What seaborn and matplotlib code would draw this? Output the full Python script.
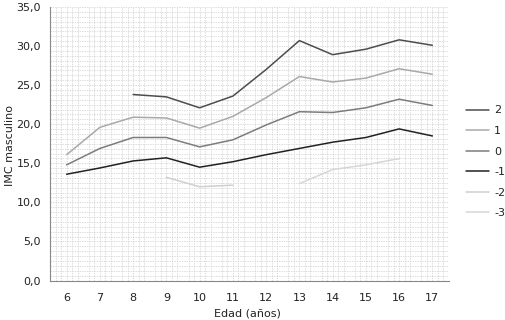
import numpy as np
import pandas as pd
import matplotlib
matplotlib.use('Agg')
import matplotlib.pyplot as plt
from matplotlib.ticker import MultipleLocator, FixedLocator, NullFormatter
import seaborn as sns

edades = [6, 7, 8, 9, 10, 11, 12, 13, 14, 15, 16, 17]

z_2 = [np.nan, np.nan, 23.8, 23.5, 22.1, 23.6, 27.0, 30.7, 28.9, 29.6, 30.8, 30.1]
z_1 = [16.1, 19.6, 20.9, 20.8, 19.5, 21.0, 23.4, 26.1, 25.4, 25.9, 27.1, 26.4]
z_0 = [14.8, 16.9, 18.3, 18.3, 17.1, 18.0, 19.9, 21.6, 21.5, 22.1, 23.2, 22.4]
z_m1 = [13.6, 14.4, 15.3, 15.7, 14.5, 15.2, 16.1, 16.9, 17.7, 18.3, 19.4, 18.5]
z_m2 = [np.nan, np.nan, np.nan, 13.2, 12.0, 12.2, np.nan, np.nan, np.nan, np.nan, np.nan, np.nan]
z_m3 = [np.nan, np.nan, np.nan, np.nan, np.nan, np.nan, np.nan, 12.4, 14.2, 14.8, 15.6, np.nan]

series = {'2': z_2, '1': z_1, '0': z_0, '-1': z_m1, '-2': z_m2, '-3': z_m3}
colores = {'2': '#4d4d4d', '1': '#a9a9a9', '0': '#7c7c7c',
           '-1': '#222222', '-2': '#cfcfcf', '-3': '#d6d6d6'}

df = pd.concat([pd.DataFrame({'Edad': edades, 'IMC': v, 'z': k}) for k, v in series.items()])
df = df.dropna()

sns.set_style('white')
plt.rcParams['font.family'] = ['Liberation Sans Narrow', 'DejaVu Sans']

fig = plt.figure(figsize=(5.06, 3.2), dpi=100)
ax = fig.add_axes([50 / 506, 1 - 280.5 / 320, 399 / 506, (280.5 - 7) / 320])

sns.lineplot(data=df, x='Edad', y='IMC', hue='z', hue_order=list(series.keys()),
             palette=colores, linewidth=1.1, ax=ax)

ax.set_xlim(5.5, 17.5)
ax.set_ylim(0, 35)

# rejilla densa punteada
ax.xaxis.set_minor_locator(MultipleLocator(1 / 6))
ax.yaxis.set_minor_locator(MultipleLocator(0.625))
ax.grid(which='minor', color='#cfcfcf', linestyle=(0, (2, 1.5)), linewidth=0.5)
ax.grid(which='major', axis='y', color='#cfcfcf', linestyle=(0, (2, 1.5)), linewidth=0.5)
ax.set_axisbelow(True)

ax.set_yticks(np.arange(0, 36, 5))
ax.set_yticklabels([f'{v:.1f}'.replace('.', ',') for v in np.arange(0, 36, 5)])
ax.xaxis.set_major_locator(FixedLocator([e + 0.5 for e in [5] + edades]))
ax.xaxis.set_major_formatter(NullFormatter())
for e in edades:
    ax.text(e, -0.045, str(e), transform=ax.get_xaxis_transform(),
            ha='center', va='top', fontsize=8, color='#222222')

ax.tick_params(axis='both', which='major', length=3, width=0.6, color='#888888',
               labelsize=8, labelcolor='#222222', direction='out')
ax.tick_params(which='minor', length=0)

for s in ['top', 'right']:
    ax.spines[s].set_visible(False)
for s in ['left', 'bottom']:
    ax.spines[s].set_color('#888888')
    ax.spines[s].set_linewidth(0.8)

ax.set_xlabel('')
ax.set_ylabel('')
fig.text(10 / 506, 1 - 145 / 320, 'IMC masculino', rotation=90, ha='center', va='center',
         fontsize=8, color='#222222')
fig.text(247 / 506, 1 - 313 / 320, 'Edad (años)', ha='center', va='center',
         fontsize=8, color='#222222')

leg = ax.legend(loc='upper left', bbox_to_anchor=(462 / 506, 1 - 101 / 320),
                bbox_transform=fig.transFigure, frameon=False, fontsize=8,
                handlelength=2.0, handletextpad=0.5, labelspacing=0.95, borderaxespad=0)
for t in leg.get_texts():
    t.set_color('#222222')

fig.savefig('out.png', dpi=100)
